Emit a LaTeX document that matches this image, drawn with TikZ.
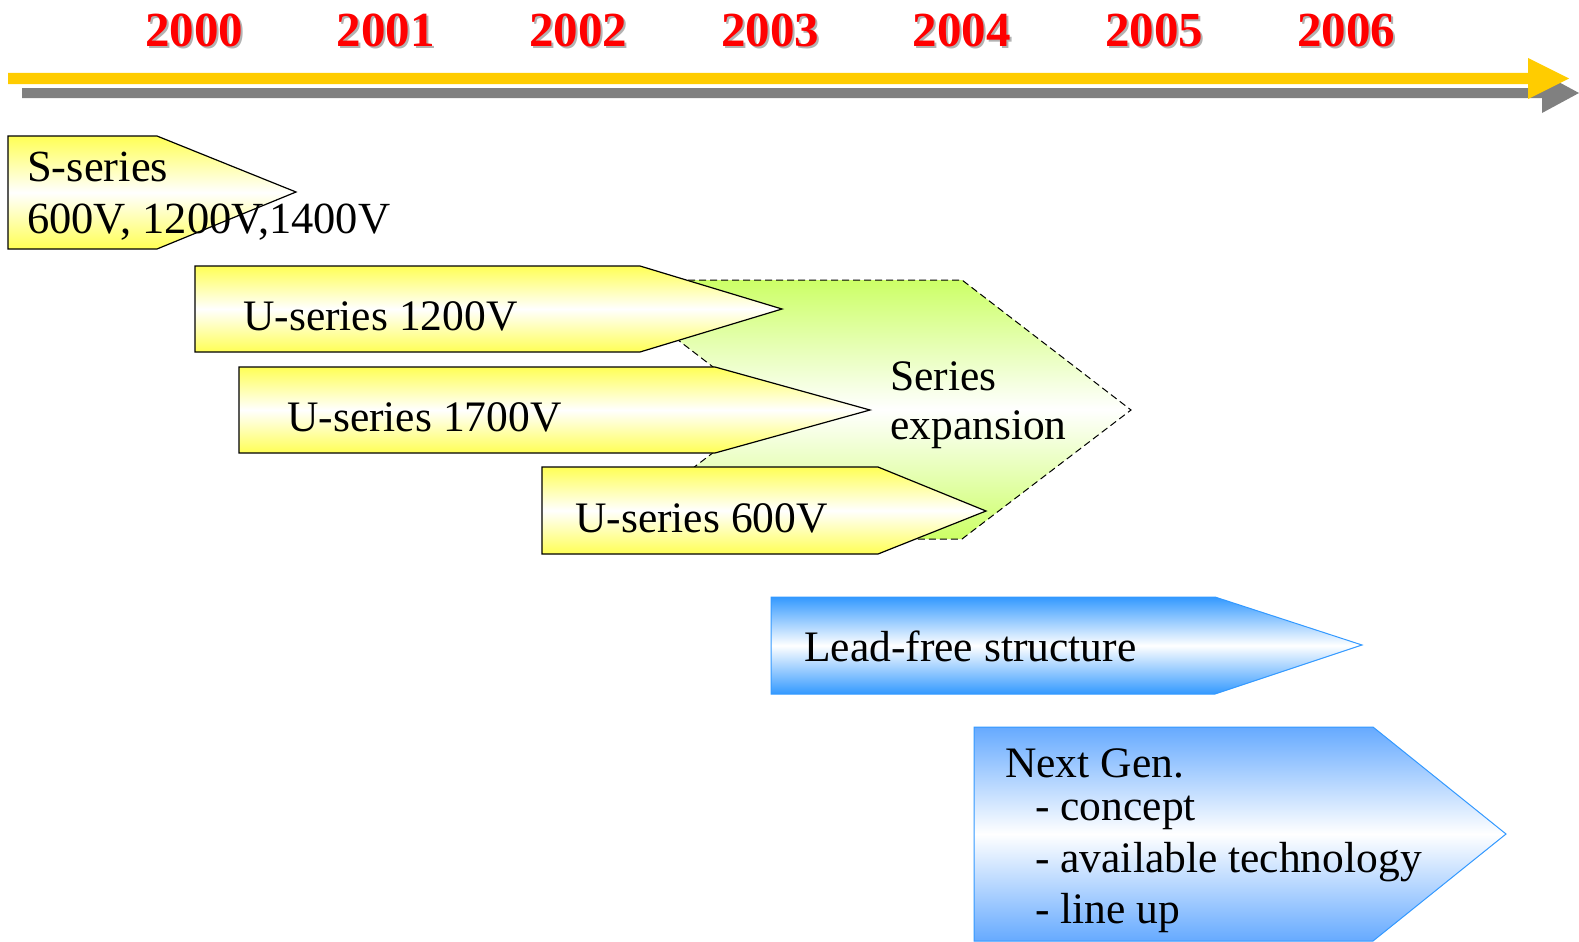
\documentclass[tikz,border=0pt]{standalone}
\usepackage{fontspec}
\setmainfont{Liberation Serif}
\definecolor{yel}{HTML}{FFFF55}
\definecolor{grn}{HTML}{CCFF66}
\definecolor{blu}{HTML}{3399FF}
\definecolor{blu2}{HTML}{66AAFF}
\definecolor{arrowyel}{HTML}{FFCC00}
\definecolor{arrowgray}{HTML}{808080}
\tikzset{
  ybox/.style={draw=black, line width=1.2pt, top color=yel, bottom color=yel, middle color=white},
  gbox/.style={draw=black, line width=1pt, dash pattern=on 7pt off 4pt, top color=grn, bottom color=grn, middle color=white},
  bbox/.style={draw=blu, line width=1pt, top color=blu, bottom color=blu, middle color=white},
  bbox2/.style={draw=blu, line width=1pt, top color=blu2, bottom color=blu2, middle color=white},
  lbl/.style={anchor=base west, inner sep=0pt, font=\fontsize{43.5}{50}\selectfont},
  lblw/.style={anchor=base west, inner sep=0pt, font=\fontsize{44.5}{50}\selectfont},
  yr/.style={inner sep=0pt, font=\fontsize{49}{50}\selectfont\bfseries, text=red},
  yrsh/.style={inner sep=0pt, font=\fontsize{49}{50}\selectfont\bfseries, text=black!30},
}
\begin{document}
\begin{tikzpicture}[x=1pt,y=-1pt]
\useasboundingbox (0,0) rectangle (1579,942);
% timeline arrows
\fill[arrowgray] (22,88) -- (1542,88) -- (1542,73) -- (1579,93) -- (1542,113) -- (1542,98) -- (22,98) -- cycle;
\fill[arrowyel] (8,73) -- (1528,73) -- (1528,58) -- (1569,78.5) -- (1528,99) -- (1528,84) -- (8,84) -- cycle;
% years
\foreach \y/\x in {2000/194.3, 2001/385.7, 2002/578, 2003/770, 2004/961.7, 2005/1154, 2006/1346} {
  \node[yrsh] (s\y) at (\x+2,32) {\y};
  \node[yr] (y\y) at (\x,30) {\y};
}
% S-series
\path[ybox] (8,136) -- (157,136) -- (296,192) -- (157,249) -- (8,249) -- cycle;
\node[lblw] (ss1) at (27,181) {S-series};
\node[lblw] (ss2) at (27,233) {600V, 1200V,1400V};
% Series expansion
\path[gbox] (600,280) -- (962,280) -- (1131,410) -- (962,539) -- (600,539) -- (769,410) -- cycle;
% U-series
\path[ybox] (195,266) -- (640,266) -- (782,309) -- (640,352) -- (195,352) -- cycle;
\node[lbl] (u12) at (243,330) {U-series 1200V};
\path[ybox] (239,367) -- (715,367) -- (870,410) -- (715,453) -- (239,453) -- cycle;
\node[lbl] (u17) at (287,431) {U-series 1700V};
\path[ybox] (542,467) -- (878,467) -- (986,511) -- (878,554) -- (542,554) -- cycle;
\node[lbl] (u6) at (575,532) {U-series 600V};
\node[lbl] (se1) at (890,390) {Series};
\node[lbl] (se2) at (890,439) {expansion};
% Lead-free
\path[bbox] (771,597) -- (1215,597) -- (1362,645) -- (1215,694) -- (771,694) -- cycle;
\node[lbl] (lf) at (804,661) {Lead-free structure};
% Next Gen
\path[bbox2] (974,727) -- (1373,727) -- (1506,834) -- (1373,941) -- (974,941) -- cycle;
\node[lbl] (ng0) at (1005,777) {Next Gen.};
\node[lbl] (ng1) at (1035,820) {- concept};
\node[lbl] (ng2) at (1035,872) {- available technology};
\node[lbl] (ng3) at (1035,923) {- line up};
\end{tikzpicture}
\end{document}
